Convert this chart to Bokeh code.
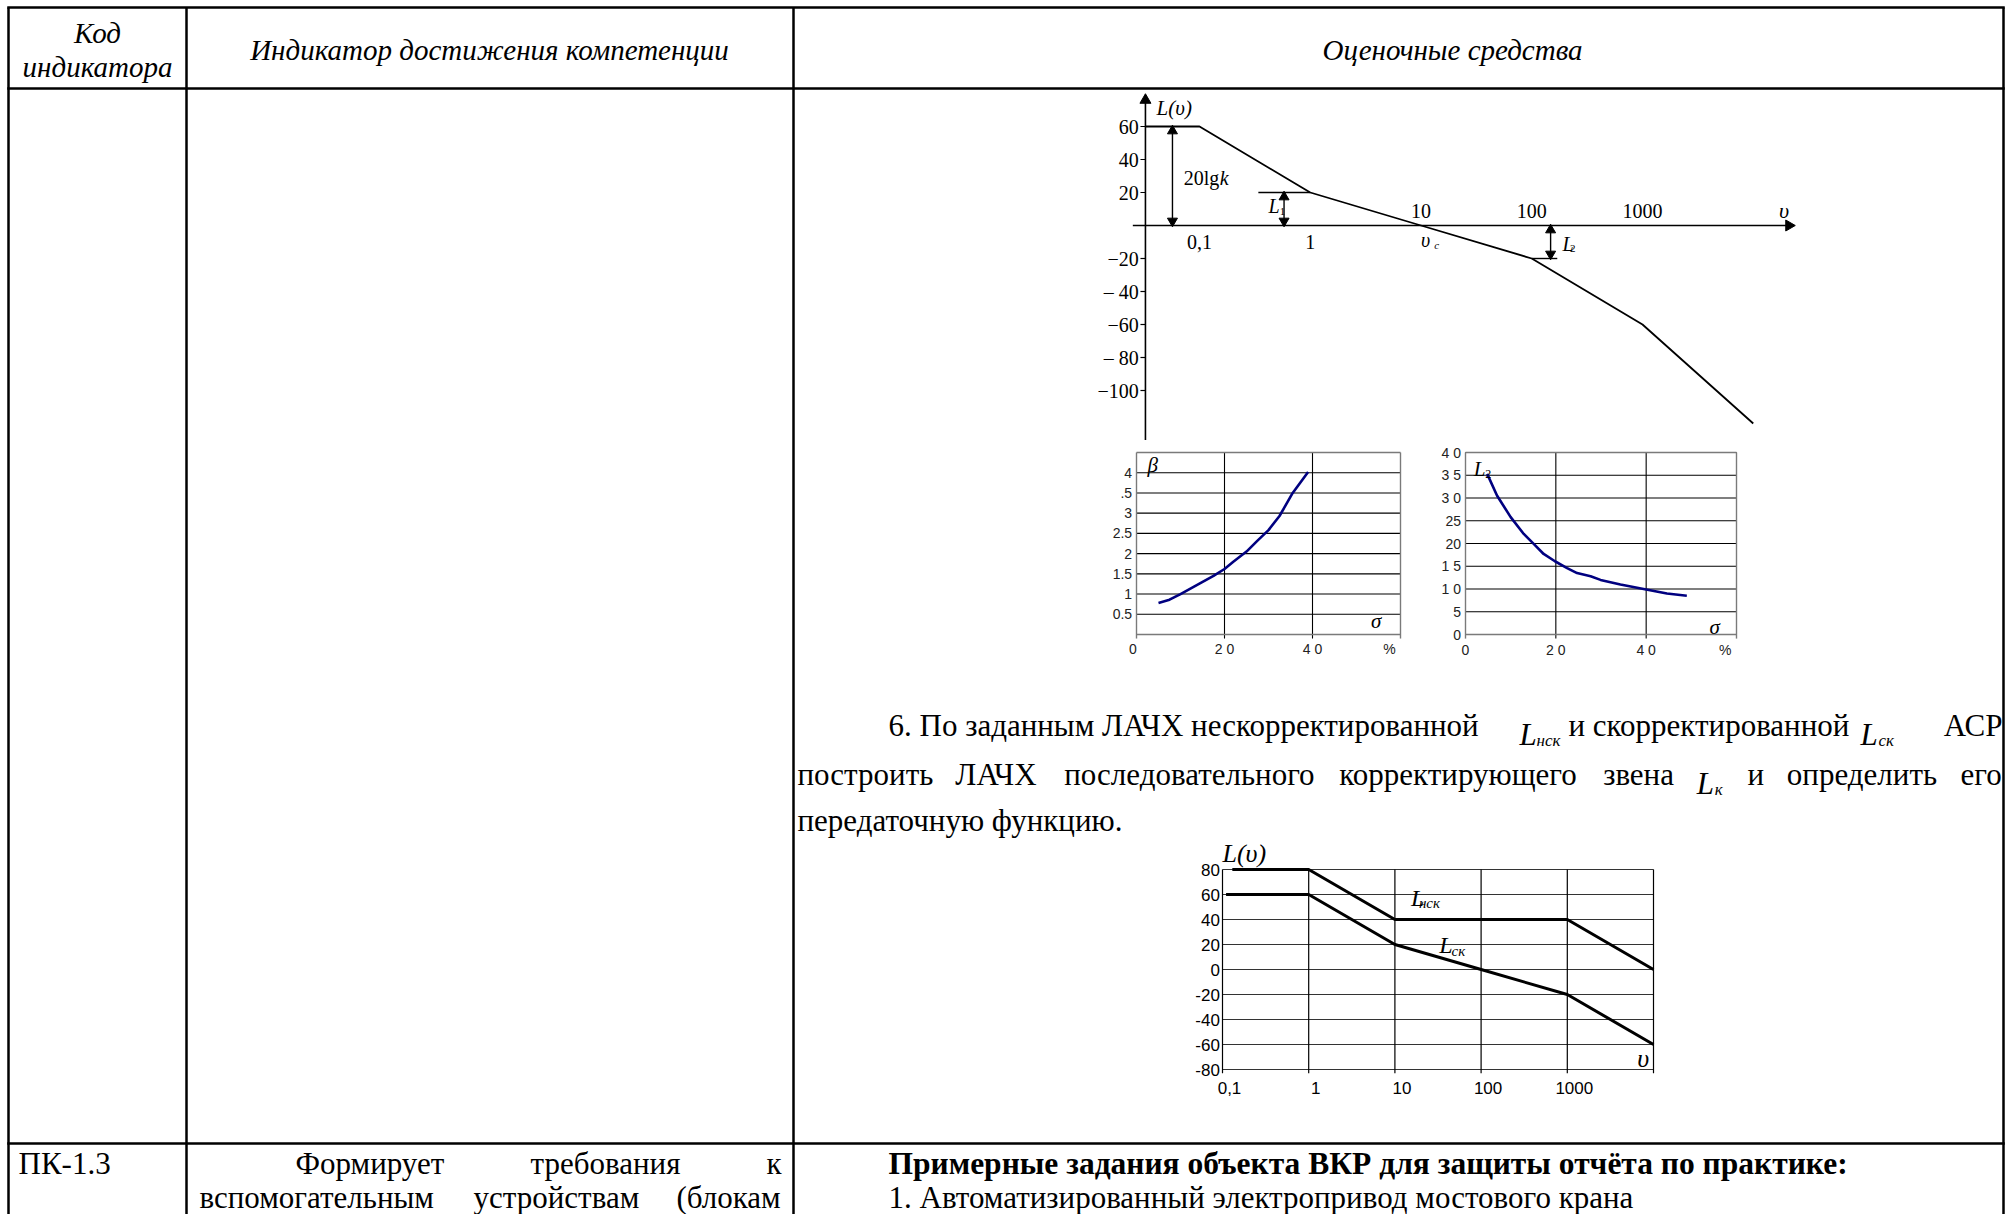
import numpy as np
from bokeh.plotting import figure
from bokeh.models import Range1d, LinearScale
from bokeh.core.properties import value
from bokeh.embed import file_html
from bokeh.resources import INLINE

# ---------------- data ----------------
# Chart 1 - asymptotic LAFC L(v)
lafc_freq = [0.0325, 0.1, 1.0, 10.0, 100.0, 1000.0, 10000.0]
lafc_db = [60, 60, 20, 0, -20, -60, -120]
lafc_yticks = [60, 40, 20, -20, -40, -60, -80, -100]
lafc_ytick_labels = ["60", "40", "20", "−20", "– 40", "−60", "– 80", "−100"]
lafc_xticks_low = [0.1, 1.0]
lafc_xtick_low_labels = ["0,1", "1"]
lafc_xticks_high = [10.0, 100.0, 1000.0]
lafc_xtick_high_labels = ["10", "100", "1000"]

# Chart 2 - beta(sigma)
beta_sigma = [5, 7.5, 10, 14, 17.5, 20, 22, 25, 27.5, 30, 32.5, 35.5, 39]
beta_value = [0.78, 0.86, 1.0, 1.24, 1.45, 1.62, 1.8, 2.05, 2.32, 2.58, 2.93, 3.5, 4.02]
beta_yticks = [4, 3.5, 3, 2.5, 2, 1.5, 1, 0.5]
beta_ytick_labels = ["4", ".5", "3", "2.5", "2", "1.5", "1", "0.5"]

# Chart 3 - L2(sigma)
l2_sigma = [4.8, 7, 10, 12.9, 15.1, 17.3, 19.8, 22.5, 24.7, 27.7, 29.9, 34.3, 40, 44.6, 49]
l2_value = [35.3, 30.5, 25.8, 22.1, 19.9, 17.7, 16.1, 14.6, 13.5, 12.8, 12.0, 11.0, 9.9, 9.0, 8.5]
l2_yticks = [40, 35, 30, 25, 20, 15, 10, 5, 0]
l2_ytick_labels = ["4 0", "3 5", "3 0", "25", "20", "1 5", "1 0", "5", "0"]
sigma_ticks = [0, 20, 40]
sigma_tick_labels = ["0", "2 0", "4 0"]

# Chart 4 - L_nsk and L_sk
nsk_freq = [0.13, 1, 10, 1000, 10000]
nsk_db = [80, 80, 40, 40, 0]
sk_freq = [0.11, 1, 10, 100, 1000, 10000]
sk_db = [60, 60, 20, 0, -20, -60]
c4_xticks = [0.1, 1, 10, 100, 1000]
c4_xtick_labels = ["0,1", "1", "10", "100", "1000"]
c4_grid_x = [0.1, 1, 10, 100, 1000, 10000]
c4_yticks = [80, 60, 40, 20, 0, -20, -40, -60, -80]
c4_ytick_labels = ["80", "60", "40", "20", "0", "-20", "-40", "-60", "-80"]

lg = lambda v: list(np.log10(np.asarray(v, dtype=float)))

# ---------------- page ----------------
W, H = 2013, 1214
SERIF = value("Liberation Serif")
SANS = value("Liberation Sans")
BODY = 31

p = figure(width=W, height=H, x_range=Range1d(0, W), y_range=Range1d(H, 0),
           output_backend="svg", toolbar_location=None, min_border=0,
           x_axis_location=None, y_axis_location=None)
p.grid.visible = False
p.outline_line_color = None
p.background_fill_color = "white"
p.border_fill_color = "white"

# table rules
XL, XC1, XC2, XR = 8, 186, 793, 2003
YT, YH, YR = 7, 88, 1143
p.segment(x0=[XL, XC1, XC2, XR], y0=[YT] * 4, x1=[XL, XC1, XC2, XR], y1=[H + 5] * 4,
          line_color="black", line_width=2.5)
p.segment(x0=[XL] * 3, y0=[YT, YH, YR], x1=[XR] * 3, y1=[YT, YH, YR],
          line_color="black", line_width=2.5, line_cap="square")

# header
p.text(x=[97, 97, 489, 1452], y=[32, 66, 49, 49],
       text=["Код", "индикатора", "Индикатор достижения компетенции", "Оценочные средства"],
       text_font=SERIF, text_font_style="italic", text_font_size="29px",
       text_align="center", text_baseline="middle", text_color="black")


def txt(x, y, s, align="left", size=f"{BODY}px", style="normal", base="middle"):
    p.text(x=[x], y=[y], text=[s], text_font=SERIF, text_font_size=size,
           text_font_style=style, text_align=align, text_baseline=base, text_color="black")


# approximate Times advance widths (em) used only for justified-line layout
_W = {" ": .25, ".": .25, ",": .25, ":": .278, "(": .333, ")": .333, "-": .333,
      "а": .444, "б": .5, "в": .472, "г": .41, "д": .5, "е": .444, "ж": .691, "з": .395,
      "и": .535, "й": .535, "к": .486, "л": .503, "м": .622, "н": .535, "о": .5, "п": .535,
      "р": .5, "с": .444, "т": .437, "у": .5, "ф": .648, "х": .5, "ц": .535, "ч": .503,
      "ш": .776, "щ": .776, "ъ": .524, "ы": .692, "ь": .472, "э": .434, "ю": .758, "я": .491,
      "Л": .667, "А": .722, "Ч": .668, "Х": .722, "Ф": .795}


def width(s, size=BODY):
    return sum(_W.get(c, .5) for c in s) * size


def justify(words, x0, x1, special=None):
    special = special or {}
    ws = [special.get(w, width(w)) for w in words]
    gap = (x1 - x0 - sum(ws)) / (len(words) - 1)
    x, out = x0, []
    for wd in ws:
        out.append(x)
        x += wd + gap
    return out


# paragraph 6
y1, y2, y3 = 725, 774, 820
txt(888, y1, "6. По заданным ЛАЧХ нескорректированной")
txt(1519, y1 + 9, "L", style="italic", base="alphabetic")
txt(1536, y1 + 15, "нск", size="17px", style="italic", base="alphabetic")
txt(1568, y1, "и скорректированной")
txt(1860, y1 + 9, "L", style="italic", base="alphabetic")
txt(1878, y1 + 15, "ск", size="17px", style="italic", base="alphabetic")
txt(2002, y1, "АСР", align="right")

line2 = ["построить", "ЛАЧХ", "последовательного", "корректирующего", "звена", "Lк", "и",
         "определить", "его"]
xs2 = justify(line2, 797, 2002, special={"Lк": 28})
for w, x in zip(line2, xs2):
    if w == "Lк":
        txt(x, y2 + 9, "L", style="italic", base="alphabetic")
        txt(x + 18, y2 + 15, "к", size="17px", style="italic", base="alphabetic")
    else:
        txt(x, y2, w)
txt(797, y3, "передаточную функцию.")

# row PK-1.3
r1, r2 = 1163, 1197
txt(18, r1, "ПК-1.3")
row1 = ["Формирует", "требования", "к"]
for w, x in zip(row1, justify(row1, 295, 781)):
    txt(x, r1, w)
row2 = ["вспомогательным", "устройствам", "(блокам"]
for w, x in zip(row2, justify(row2, 199, 781)):
    txt(x, r2, w)
txt(888, r1, "Примерные задания объекта ВКР для защиты отчёта по практике:", size="31.5px", style="bold")
txt(888, r2, "1. Автоматизированный электропривод мостового крана")


def sub(xsrc, xtgt, ysrc, ytgt):
    return p.subplot(x_source=Range1d(*xsrc), y_source=Range1d(*ysrc),
                     x_scale=LinearScale(), y_scale=LinearScale(),
                     x_target=Range1d(*xtgt), y_target=Range1d(*ytgt))


# ---------------- chart 1 (log10 of frequency on x) ----------------
c1 = sub((-1, 3), (1199, 1642), (-100, 60), (390, 126))
AXX = np.log10(0.0325)
XEND = np.log10(21000)
c1.segment(x0=[np.log10(0.025)], y0=[0], x1=[XEND], y1=[0], line_color="black", line_width=1.6)
c1.segment(x0=[AXX], y0=[-130], x1=[AXX], y1=[76], line_color="black", line_width=1.6)
c1.scatter(x=[AXX], y=[76], marker="triangle", size=11, color="black")
c1.scatter(x=[XEND], y=[0], marker="triangle", angle=-np.pi / 2, size=11, color="black")
n = len(lafc_yticks)
c1.segment(x0=[AXX - 0.045] * n, y0=lafc_yticks, x1=[AXX] * n, y1=lafc_yticks,
           line_color="black", line_width=1.2)
c1.line(lg(lafc_freq), lafc_db, line_color="black", line_width=1.8)
c1.text(x=[AXX - 0.06] * n, y=lafc_yticks, text=lafc_ytick_labels,
        text_font=SERIF, text_font_size="20px", text_align="right", text_baseline="middle")
c1.text(x=lg(lafc_xticks_low), y=[-10] * 2, text=lafc_xtick_low_labels, text_font=SERIF,
        text_font_size="20px", text_align="center", text_baseline="middle")
c1.text(x=lg(lafc_xticks_high), y=[8.5] * 3, text=lafc_xtick_high_labels, text_font=SERIF,
        text_font_size="20px", text_align="center", text_baseline="middle")
c1.text(x=lg([11.0]), y=[-9], text=["υ"], text_font=SERIF, text_font_style="italic",
        text_font_size="20px", text_align="center", text_baseline="middle")
c1.text(x=lg([13.2]), y=[-12], text=["c"], text_font=SERIF, text_font_style="italic",
        text_font_size="11px", text_align="left", text_baseline="middle")
c1.text(x=lg([19000]), y=[9], text=["υ"], text_font=SERIF, text_font_style="italic",
        text_font_size="22px", text_align="center", text_baseline="middle")
c1.text(x=lg([0.041]), y=[71], text=["L(υ)"], text_font=SERIF, text_font_style="italic",
        text_font_size="21px", text_align="left", text_baseline="middle")
# 20lgk arrow
a0 = np.log10(0.057)
c1.segment(x0=[a0], y0=[0], x1=[a0], y1=[60], line_color="black", line_width=1.4)
c1.scatter(x=[a0], y=[57.3], marker="triangle", size=10, color="black")
c1.scatter(x=[a0], y=[2.7], marker="inverted_triangle", size=10, color="black")
c1.text(x=lg([0.072]), y=[29], text=["20lg"], text_font=SERIF, text_font_size="20px",
        text_align="left", text_baseline="middle")
c1.text(x=lg([0.152]), y=[29], text=["k"], text_font=SERIF, text_font_style="italic",
        text_font_size="20px", text_align="left", text_baseline="middle")
# L1
a1 = np.log10(0.58)
c1.segment(x0=lg([0.34]), y0=[20], x1=[0], y1=[20], line_color="black", line_width=1.4)
c1.segment(x0=[a1], y0=[0], x1=[a1], y1=[20], line_color="black", line_width=1.4)
c1.scatter(x=[a1], y=[17.3], marker="triangle", size=10, color="black")
c1.scatter(x=[a1], y=[2.7], marker="inverted_triangle", size=10, color="black")
c1.text(x=lg([0.53]), y=[12], text=["L"], text_font=SERIF, text_font_style="italic",
        text_font_size="20px", text_align="right", text_baseline="middle")
c1.text(x=lg([0.53]), y=[8.5], text=["1"], text_font=SERIF, text_font_size="11px",
        text_align="left", text_baseline="middle")
# L2
a2 = np.log10(148)
c1.segment(x0=[2], y0=[-20], x1=lg([170]), y1=[-20], line_color="black", line_width=1.4)
c1.segment(x0=[a2], y0=[0], x1=[a2], y1=[-20], line_color="black", line_width=1.4)
c1.scatter(x=[a2], y=[-2.7], marker="triangle", size=10, color="black")
c1.scatter(x=[a2], y=[-17.3], marker="inverted_triangle", size=10, color="black")
c1.text(x=lg([190]), y=[-11], text=["L"], text_font=SERIF, text_font_style="italic",
        text_font_size="20px", text_align="left", text_baseline="middle")
c1.text(x=lg([222]), y=[-14], text=["2"], text_font=SERIF, text_font_size="11px",
        text_align="left", text_baseline="middle")

# ---------------- chart 2 ----------------
c2 = sub((0, 60), (1136, 1400), (0, 4.5), (634, 452))
c2.segment(x0=[0] * len(beta_yticks), y0=beta_yticks, x1=[60] * len(beta_yticks),
           y1=beta_yticks, line_color="black", line_width=1.1)
c2.segment(x0=[20, 40], y0=[-0.1, -0.1], x1=[20, 40], y1=[4.5, 4.5], line_color="black", line_width=1.1)
c2.segment(x0=[0, 0, 0, 60], y0=[0, 4.5, -0.1, -0.1], x1=[60, 60, 0, 60], y1=[0, 4.5, 4.5, 4.5],
           line_color="#7a7a7a", line_width=1.4)
c2.line(beta_sigma, beta_value, line_color="#000080", line_width=2.6)
c2.text(x=[-1] * len(beta_yticks), y=beta_yticks, text=beta_ytick_labels, text_font=SANS,
        text_font_size="14px", text_align="right", text_baseline="middle", text_color="#222222")
c2.text(x=[-0.8, 20, 40, 57.5], y=[-0.37] * 4, text=sigma_tick_labels + ["%"], text_font=SANS,
        text_font_size="14px", text_align="center", text_baseline="middle", text_color="#222222")
c2.text(x=[2.5], y=[4.2], text=["β"], text_font=SERIF, text_font_style="italic",
        text_font_size="21px", text_align="left", text_baseline="alphabetic")
c2.text(x=[53.3], y=[0.33], text=["σ"], text_font=SERIF, text_font_style="italic",
        text_font_size="21px", text_align="left", text_baseline="alphabetic")

# ---------------- chart 3 ----------------
c3 = sub((0, 60), (1465, 1736), (0, 40), (634, 452))
c3.segment(x0=[0] * len(l2_yticks), y0=l2_yticks, x1=[60] * len(l2_yticks),
           y1=l2_yticks, line_color="black", line_width=1.1)
c3.segment(x0=[20, 40], y0=[-0.9, -0.9], x1=[20, 40], y1=[40, 40], line_color="black", line_width=1.1)
c3.segment(x0=[0, 0, 0, 60], y0=[0, 40, -0.9, -0.9], x1=[60, 60, 0, 60], y1=[0, 40, 40, 40],
           line_color="#7a7a7a", line_width=1.4)
c3.line(l2_sigma, l2_value, line_color="#000080", line_width=2.6)
c3.text(x=[-1] * len(l2_yticks), y=l2_yticks, text=l2_ytick_labels, text_font=SANS,
        text_font_size="14px", text_align="right", text_baseline="middle", text_color="#222222")
c3.text(x=[0, 20, 40, 57.5], y=[-3.3] * 4, text=sigma_tick_labels + ["%"], text_font=SANS,
        text_font_size="14px", text_align="center", text_baseline="middle", text_color="#222222")
c3.text(x=[1.8], y=[36.4], text=["L"], text_font=SERIF, text_font_style="italic",
        text_font_size="21px", text_align="left", text_baseline="alphabetic")
c3.text(x=[4.4], y=[35.2], text=["2"], text_font=SERIF, text_font_size="12px",
        text_align="left", text_baseline="alphabetic")
c3.text(x=[54], y=[1.6], text=["σ"], text_font=SERIF, text_font_style="italic",
        text_font_size="21px", text_align="left", text_baseline="alphabetic")

# ---------------- chart 4 (log10 of frequency on x) ----------------
c4 = sub((-1, 4), (1222, 1653), (-80, 80), (1069, 869))
c4.segment(x0=[-1] * len(c4_yticks), y0=c4_yticks, x1=[4] * len(c4_yticks),
           y1=c4_yticks, line_color="#333333", line_width=1.1)
gx = lg(c4_grid_x)
c4.segment(x0=gx, y0=[-83] * len(gx), x1=gx, y1=[80] * len(gx), line_color="black", line_width=1.2)
c4.line(lg(nsk_freq), nsk_db, line_color="black", line_width=3)
c4.line(lg(sk_freq), sk_db, line_color="black", line_width=3)
c4.text(x=[-1.03] * len(c4_yticks), y=c4_yticks, text=c4_ytick_labels, text_font=SANS,
        text_font_size="17px", text_align="right", text_baseline="middle", text_color="black")
c4.text(x=lg(c4_xticks), y=[-95] * len(c4_xticks), text=c4_xtick_labels, text_font=SANS,
        text_font_size="17px", text_align="center", text_baseline="middle", text_color="black",
        x_offset=7)
c4.text(x=[-1], y=[93], text=["L(υ)"], text_font=SERIF, text_font_style="italic",
        text_font_size="26px", text_align="left", text_baseline="middle")
c4.text(x=lg([15.4]), y=[57], text=["L"], text_font=SERIF, text_font_style="italic",
        text_font_size="24px", text_align="left", text_baseline="alphabetic")
c4.text(x=lg([19.0]), y=[53], text=["нск"], text_font=SERIF, text_font_style="italic",
        text_font_size="15px", text_align="left", text_baseline="alphabetic")
c4.text(x=lg([32.6]), y=[19.5], text=["L"], text_font=SERIF, text_font_style="italic",
        text_font_size="24px", text_align="left", text_baseline="alphabetic")
c4.text(x=lg([45.5]), y=[14.5], text=["ск"], text_font=SERIF, text_font_style="italic",
        text_font_size="15px", text_align="left", text_baseline="alphabetic")
c4.text(x=lg([7600]), y=[-71], text=["υ"], text_font=SERIF, text_font_style="italic",
        text_font_size="26px", text_align="center", text_baseline="alphabetic")

open("out.html", "w").write(file_html(p, INLINE))
